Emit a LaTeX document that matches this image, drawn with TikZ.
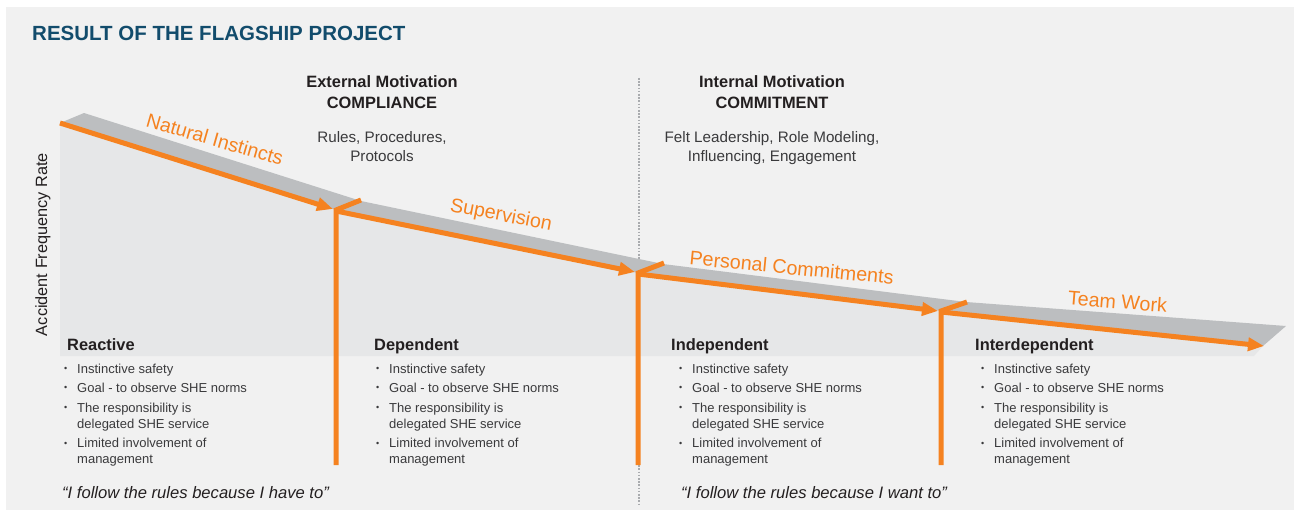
\documentclass[tikz,border=0pt]{standalone}
\usepackage{fontspec}
\setmainfont{Liberation Sans}
\usetikzlibrary{arrows.meta}
\definecolor{bgc}{HTML}{F1F1F1}
\definecolor{bandc}{HTML}{BCBEC0}
\definecolor{lightc}{HTML}{E6E7E8}
\definecolor{orangec}{HTML}{F58220}
\definecolor{titlec}{HTML}{124C6C}
\definecolor{headc}{HTML}{231F20}
\definecolor{bodyc}{HTML}{3A3A3C}
\definecolor{dotc}{HTML}{A9ABAE}
\newcommand{\bul}{\llap{\raisebox{1.2pt}{\fontsize{9}{9}\selectfont\textbullet}\hspace{10pt}}}
\begin{document}
\begin{tikzpicture}[x=1pt,y=-1pt,
  oline/.style={draw=orangec, line width=5pt},
  oarrow/.style={oline, -{Triangle[length=16pt,width=13pt]}},
  olabel/.style={text=orangec, font=\fontsize{19.7}{20}\selectfont, anchor=base, inner sep=0pt},
  toptitle/.style={text=titlec, font=\bfseries\fontsize{20.5}{22}\selectfont, anchor=base west, inner sep=0pt},
  motiv/.style={text=headc, font=\bfseries\fontsize{16.4}{18}\selectfont, anchor=base, inner sep=0pt},
  motivsub/.style={text=bodyc, font=\fontsize{15.2}{17}\selectfont, anchor=base, inner sep=0pt},
  head/.style={text=headc, font=\bfseries\fontsize{16.4}{18}\selectfont, anchor=base west, inner sep=0pt},
  body/.style={text=bodyc, font=\fontsize{13}{15}\selectfont, anchor=base west, inner sep=0pt},
  quote/.style={text=headc, font=\itshape\fontsize{16.6}{18}\selectfont, anchor=base west, inner sep=0pt},
  divider/.style={draw=dotc, line width=2.6pt, dash pattern=on 1.6pt off 1.6pt}
]
\useasboundingbox (0,0) rectangle (1294,519);
\fill[white] (0,0) rectangle (1294,519);
\fill[bgc] (6,7) rectangle (1294,510);

% divider
\coordinate (dvtop) at (639,78);
\coordinate (dvbot) at (639,505);
\draw[divider] (dvtop) -- (dvbot);

% front edge points
\coordinate (f0) at (60,123);
\coordinate (j1) at (336,210);
\coordinate (j2) at (638,273);
\coordinate (j3) at (941,311);
\coordinate (f4) at (1263,346);

% light region
\fill[lightc] (f0) -- (j1) -- (j2) -- (j3) -- (f4) -- (1254,356) -- (60,356) -- cycle;
% band
\fill[bandc] (f0) -- (j1) -- (j2) -- (j3) -- (f4) -- (1286,326) -- (966,302) -- (663,264) -- (361,201) -- (84,113) -- cycle;

% arrow tips / segment starts
\coordinate (t1) at (333,209);
\coordinate (s2) at (336,211);
\coordinate (t2) at (635,272);
\coordinate (s3) at (638,274);
\coordinate (t3) at (938,311);
\coordinate (s4) at (941,312);
\coordinate (t4) at (1264,346);
\coordinate (k1) at (361,200);
\coordinate (k2) at (664,263);
\coordinate (k3) at (967,302);
\coordinate (b1) at (336,465);
\coordinate (b2) at (638,465);
\coordinate (b3) at (941,465);

\draw[oline] (b1) -- (j1) -- (k1);
\draw[oline] (b2) -- (j2) -- (k2);
\draw[oline] (b3) -- (j3) -- (k3);
\draw[oarrow] (f0) -- (t1);
\draw[oarrow] (s2) -- (t2);
\draw[oarrow] (s3) -- (t3);
\draw[oarrow] (s4) -- (t4);

% orange labels
\node[olabel, rotate=-16] (lab1) at (213,146) {Natural Instincts};
\node[olabel, rotate=-11] (lab2) at (500,221) {Supervision};
\node[olabel, rotate=-5.5] (lab3) at (791,274.5) {Personal Commitments};
\node[olabel, rotate=-4.5] (lab4) at (1117,308.5) {Team Work};

% title
\node[toptitle] (title) at (32,41) {RESULT OF THE FLAGSHIP PROJECT};

% axis label
\node[text=headc, font=\fontsize{16.3}{18}\selectfont, rotate=90, anchor=base, inner sep=0pt] (ylab) at (47,244.5) {Accident Frequency Rate};

% motivation blocks
\node[motiv] (ext1) at (382,88) {External Motivation};
\node[motiv] (ext2) at (382,108) {COMPLIANCE};
\node[motivsub] (ext3) at (382,142) {Rules, Procedures,};
\node[motivsub] (ext4) at (382,161) {Protocols};
\node[motiv] (int1) at (772,88) {Internal Motivation};
\node[motiv] (int2) at (772,108) {COMMITMENT};
\node[motivsub] (int3) at (772,142) {Felt Leadership, Role Modeling,};
\node[motivsub] (int4) at (772,161) {Influencing, Engagement};

% stage columns
\foreach \c/\tx/\hx/\nm in {1/77/67/Reactive, 2/389/374/Dependent, 3/692/671/Independent, 4/994/975/Interdependent} {
  \node[head] (h\c) at (\hx,350) {\nm};
  \node[body] (c\c-a) at (\tx,373) {\bul Instinctive safety};
  \node[body] (c\c-b) at (\tx,392) {\bul Goal - to observe SHE norms};
  \node[body] (c\c-c) at (\tx,412) {\bul The responsibility is};
  \node[body] (c\c-d) at (\tx,428) {delegated SHE service};
  \node[body] (c\c-e) at (\tx,447.5) {\bul Limited involvement of};
  \node[body] (c\c-f) at (\tx,463.5) {management};
}

% quotes
\node[quote] (q1) at (62,498) {“I follow the rules because I have to”};
\node[quote] (q2) at (681,498) {“I follow the rules because I want to”};
\end{tikzpicture}
\end{document}
